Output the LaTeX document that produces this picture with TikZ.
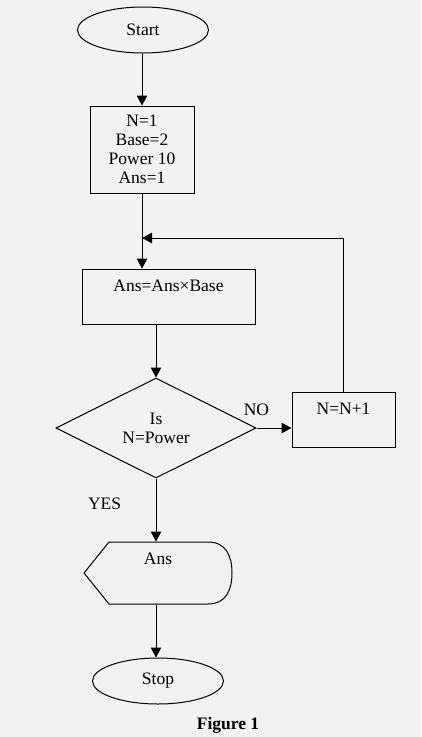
\documentclass[tikz,border=0pt]{standalone}
\usepackage{fontspec}
\setmainfont{Liberation Serif}
\usetikzlibrary{shapes.geometric,arrows.meta}
\begin{document}
\begin{tikzpicture}[x=1pt,y=-1pt,line width=1pt,font=\fontsize{17.5}{19}\selectfont]
     \tikzstyle{term}=[draw, ellipse, minimum width=131pt, minimum height=46pt, inner sep=0pt]
     \tikzstyle{proc}=[draw, rectangle, inner sep=0pt]
     \tikzstyle{decide}=[draw, diamond, aspect=2, minimum width=200pt, minimum height=100pt, inner sep=0pt, align=center]
     \tikzstyle{flow}=[-{Triangle[length=10pt,width=10.5pt]}]
     \fill[black!5] (0,0) rectangle (421,737);
     \useasboundingbox (0,0) rectangle (421,737);
     \node[term] (start) at (143,30) {Start};
     \node[proc, minimum width=104pt, minimum height=87pt, align=center] (init) at (142,149.5)
     {N=1\\Base=2\\Power 10\\Ans=1};
     \node[proc, minimum width=173pt, inner ysep=8pt, text height=14pt, text depth=25pt] (calc) at (168.5,296.5) {Ans=Ans×Base};
     \node[decide] (test) at (156,428) {Is\\N=Power};
     \node[proc, minimum width=103pt, inner ysep=8pt, text height=14pt, text depth=25pt] (inc) at (343.5,419.5) {N=N+1};
     \node[minimum width=148pt, inner ysep=8pt, text height=14pt, text depth=32pt] (out) at (158,573) {Ans};
     \draw (84,573) -- (109,542) -- (208,542) .. controls (226,542) and (232,556) .. (232,573)
     .. controls (232,590) and (226,604) .. (208,604) -- (109,604) -- cycle;
     \node[term] (stop) at (158,681) {Stop};
     \node[font=\fontsize{17.5}{19}\selectfont\bfseries] (caption) at (228,725) {Figure 1};
     \coordinate (join) at (142,238);
     % connectors
     \draw[flow] (start.south -| init) -- (init.north);
     \draw[flow] (init.south) -- (init.south |- calc.north);
     \draw[flow] (inc.north) |- (join);
     \draw[flow] (calc.south -| test) -- (test.north);
     \draw[flow] (test.east) -- (test.east -| inc.west)
     node[pos=0, above=9pt]{NO};
     \draw[flow] (test.south) -- (out.north -| test)
     node[pos=0.4, left=31pt]{YES};
     \draw[flow] (test.south |- out.south) -- (test.south |- stop.north);
\end{tikzpicture}
\end{document}
